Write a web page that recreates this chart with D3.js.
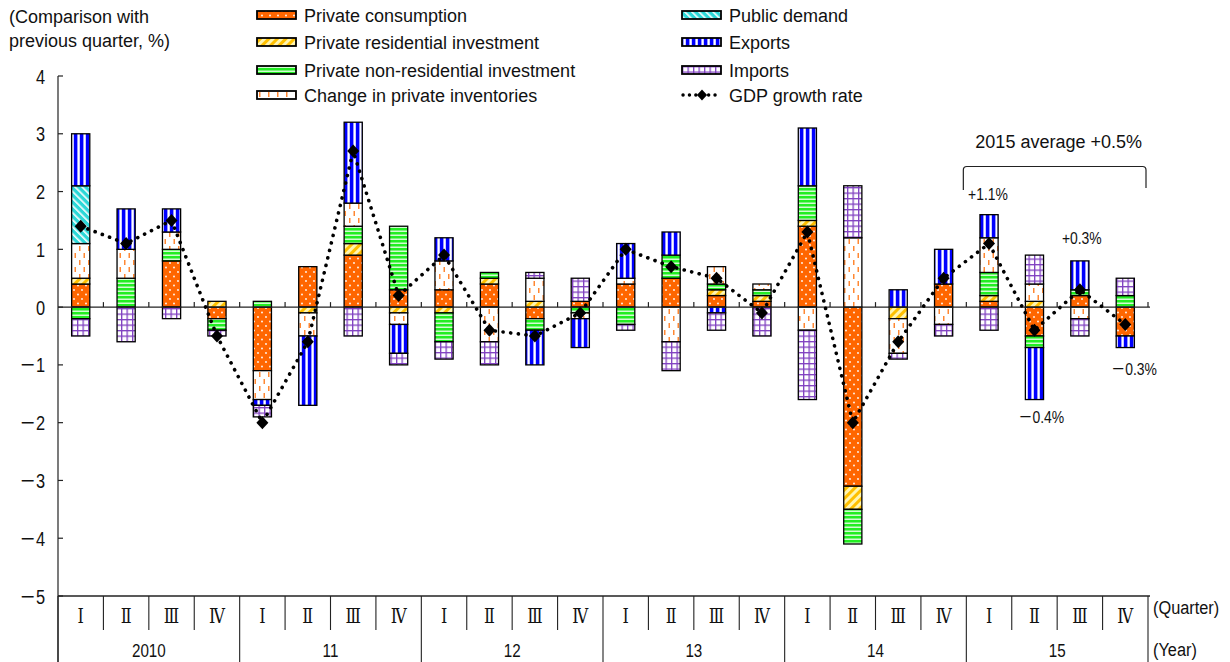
<!DOCTYPE html>
<html>
<head>
<meta charset="utf-8">
<script src="https://cdn.jsdelivr.net/npm/d3@7"></script>
<style>
  html, body { margin: 0; padding: 0; background: #fff; }
  svg { display: block; }
  .narrow { font-family: "Liberation Sans", Arial, "Noto Sans CJK JP", sans-serif; }
  .wide { font-family: "Liberation Sans", Arial, "Noto Sans CJK JP", sans-serif; }
</style>
</head>
<body>
<svg id="chart" width="1230" height="662"></svg>
<script>
// Contributions to real GDP growth (quarter on quarter, % points), 2010 Q1 – 2015 Q4
const years = ["2010", "11", "12", "13", "14", "15"];
const quarters = ["Ⅰ", "Ⅱ", "Ⅲ", "Ⅳ"];
const categories = years.flatMap(y => quarters.map(q => y + "-" + q));

const privateConsumption    = [0.4, 0, 0.8, -0.2, -1.1, 0.7, 0.9, 0.3, 0.3, 0.4, -0.2, 0.1, 0.4, 0.5, 0.2, 0.1, 1.4, -3.1, 0, 0.4, 0.1, -0.5, 0.2, -0.5];
const privateResidential    = [0.1, 0, 0, 0.1, 0, -0.1, 0.2, -0.1, -0.1, 0.1, 0.1, 0, 0, 0, 0.1, 0.1, 0.1, -0.4, -0.2, 0, 0.1, 0.1, 0, 0];
const privateNonResidential = [-0.2, 0.5, 0.2, -0.2, 0.1, 0, 0.3, 1.1, -0.5, 0.1, -0.2, -0.1, -0.3, 0.4, 0.1, 0.1, 0.6, -0.6, 0, 0, 0.4, -0.2, 0.1, 0.2];
const privateInventories    = [0.6, 0.5, 0.3, 0, -0.5, -0.4, 0.4, -0.2, 0.5, -0.6, 0.4, -0.1, 0.1, -0.6, 0.3, 0.1, -0.4, 1.2, -0.6, -0.3, 0.6, 0.3, -0.2, 0];
const publicDemand          = [1.0, 0, 0, 0, 0, 0, 0, 0, 0, 0, 0, 0, 0, 0, 0, 0, 0, 0, 0, 0, 0, 0, 0, 0];
const exportsContrib        = [0.9, 0.7, 0.4, 0, -0.1, -1.2, 1.4, -0.5, 0.4, 0, -0.6, -0.5, 0.6, 0.4, -0.1, 0, 1.0, 0, 0.3, 0.6, 0.4, -0.9, 0.5, -0.2];
const importsContrib        = [-0.3, -0.6, -0.2, -0.1, -0.2, 0, -0.5, -0.2, -0.3, -0.4, 0.1, 0.4, -0.1, -0.5, -0.3, -0.5, -1.2, 0.9, -0.1, -0.2, -0.4, 0.5, -0.3, 0.3];
const gdpGrowth             = [1.4, 1.1, 1.5, -0.5, -2.0, -0.6, 2.7, 0.2, 0.9, -0.4, -0.5, -0.1, 1.0, 0.7, 0.5, -0.1, 1.3, -2.0, -0.6, 0.5, 1.1, -0.4, 0.3, -0.3];

const yTicks = [4, 3, 2, 1, 0, -1, -2, -3, -4, -5];

const seriesNames = [
  "Private consumption", "Private residential investment", "Private non-residential investment",
  "Change in private inventories", "Public demand", "Exports", "Imports"
];
const seriesValues = [privateConsumption, privateResidential, privateNonResidential,
  privateInventories, publicDemand, exportsContrib, importsContrib];
const seriesKeys = ["cons", "res", "nonres", "inv", "pub", "exp", "imp"];

// 2015 annotations
const avgLabel = "2015 average +0.5%";
const pointLabels = [
  { cat: "15-Ⅰ", text: "+1.1%" },
  { cat: "15-Ⅱ", text: "－0.4%" },
  { cat: "15-Ⅲ", text: "+0.3%" },
  { cat: "15-Ⅳ", text: "－0.3%" }
];

const svg = d3.select("#chart");

// condensed text: horizontally squeezed glyphs
function narrowText(parent, tx, ty, str, size, sx, anchor) {
  return parent.append("text")
    .attr("class", "narrow")
    .attr("transform", `translate(${tx},${ty}) scale(${sx},1)`)
    .attr("text-anchor", anchor || "start")
    .attr("font-size", size)
    .attr("fill", "#111")
    .text(str);
}

// ---------- fill patterns ----------
const defs = svg.append("defs");
function pat(id, w, h, bg) {
  const p = defs.append("pattern").attr("id", id).attr("patternUnits", "userSpaceOnUse")
    .attr("width", w).attr("height", h);
  p.append("rect").attr("width", w).attr("height", h).attr("fill", bg);
  return p;
}
// consumption: orange with white dots
{
  const p = pat("p-cons", 8, 9, "#ff6600");
  p.append("circle").attr("cx", 2).attr("cy", 2).attr("r", 0.9).attr("fill", "#fff");
  p.append("circle").attr("cx", 6).attr("cy", 6.5).attr("r", 0.9).attr("fill", "#fff");
}
// residential: gold diagonal stripes
{
  const p = pat("p-res", 6, 6, "#fff5b0").attr("patternTransform", "rotate(45)");
  p.append("rect").attr("x", 0).attr("y", 0).attr("width", 3).attr("height", 6).attr("fill", "#ffc000");
}
// non-residential: green with white horizontal lines
{
  const p = pat("p-nonres", 6, 4, "#22ee22");
  p.append("rect").attr("x", 0).attr("y", 2.6).attr("width", 6).attr("height", 1.2).attr("fill", "#fff");
}
// inventories: white with orange dashes
{
  const p = pat("p-inv", 9, 14, "#fff");
  p.append("rect").attr("x", 2.5).attr("y", 1).attr("width", 1.5).attr("height", 5).attr("fill", "#ff8833");
  p.append("rect").attr("x", 7).attr("y", 8).attr("width", 1.5).attr("height", 5).attr("fill", "#ff8833");
}
// public demand: cyan with white diagonal stripes
{
  const p = pat("p-pub", 5, 5, "#2cd8d8").attr("patternTransform", "rotate(-45)");
  p.append("rect").attr("x", 0).attr("y", 0).attr("width", 1.6).attr("height", 5).attr("fill", "#fff");
}
// exports: blue vertical stripes
{
  const p = pat("p-exp", 6, 6, "#fff");
  p.append("rect").attr("x", 1.8).attr("y", 0).attr("width", 3.6).attr("height", 6).attr("fill", "#0000ff");
}
// imports: purple grid
{
  const p = pat("p-imp", 5.5, 5.5, "#fff");
  p.append("rect").attr("x", 0).attr("y", 0).attr("width", 5.5).attr("height", 1.3).attr("fill", "#8040c0");
  p.append("rect").attr("x", 0).attr("y", 0).attr("width", 1.3).attr("height", 5.5).attr("fill", "#8040c0");
}

// ---------- scales ----------
const x = d3.scaleBand().domain(categories).range([58, 1148]).padding(0);
const y = d3.scaleLinear().domain([-5, 4]).range([596, 76]);
const bw = x.bandwidth() * 0.4;
const cx = c => x(c) + x.bandwidth() / 2;

// ---------- stacked bars ----------
const rows = categories.map((c, i) => {
  const r = { cat: c };
  seriesKeys.forEach((k, j) => r[k] = seriesValues[j][i]);
  return r;
});
const stacked = d3.stack().keys(seriesKeys).offset(d3.stackOffsetDiverging)(rows);

const barsG = svg.append("g");
stacked.forEach(layer => {
  barsG.append("g").selectAll("rect")
    .data(layer.filter(d => d[1] - d[0] !== 0))
    .join("rect")
    .attr("x", d => cx(d.data.cat) - bw / 2)
    .attr("width", bw)
    .attr("y", d => y(Math.max(d[0], d[1])))
    .attr("height", d => Math.abs(y(d[0]) - y(d[1])))
    .attr("fill", `url(#p-${layer.key})`)
    .attr("stroke", "#000")
    .attr("stroke-width", 1.3);
});

// ---------- axes ----------
const axisG = svg.append("g").attr("stroke", "#222").attr("fill", "none");
// left axis line (runs down through the category rows)
axisG.append("line").attr("x1", 58).attr("x2", 58).attr("y1", y(4)).attr("y2", 662).attr("stroke-width", 1.2);
// y ticks
yTicks.forEach(t => {
  axisG.append("line").attr("x1", 58).attr("x2", 63).attr("y1", y(t)).attr("y2", y(t)).attr("stroke-width", 1.2);
});
const tickG = svg.append("g");
yTicks.forEach(t => {
  narrowText(tickG, 45, y(t) + 7.5, t < 0 ? "－" + Math.abs(t) : String(t), 21, 0.78, "end");
});

// zero line with small upward ticks at category boundaries
axisG.append("line").attr("x1", 58).attr("x2", 1150).attr("y1", y(0)).attr("y2", y(0)).attr("stroke-width", 1.4);
categories.forEach((c, i) => {
  if (i === 0) return;
  axisG.append("line").attr("x1", x(c)).attr("x2", x(c)).attr("y1", y(0)).attr("y2", y(0) - 5).attr("stroke-width", 1.2);
});
axisG.append("line").attr("x1", 1148).attr("x2", 1148).attr("y1", y(0)).attr("y2", y(0) - 5).attr("stroke-width", 1.2);

// bottom axis with quarter and year rows
axisG.append("line").attr("x1", 58).attr("x2", 1150).attr("y1", y(-5)).attr("y2", y(-5)).attr("stroke-width", 1.6);
categories.forEach((c, i) => {
  const yearStart = i % 4 === 0;
  axisG.append("line").attr("x1", x(c)).attr("x2", x(c))
    .attr("y1", y(-5)).attr("y2", yearStart ? 662 : 630).attr("stroke-width", 1.1);
});
axisG.append("line").attr("x1", 1148).attr("x2", 1148).attr("y1", y(-5)).attr("y2", 662).attr("stroke-width", 1.1);

const qG = svg.append("g");
categories.forEach(c => {
  qG.append("text")
    .attr("font-family", "'DejaVu Serif', 'Noto Sans CJK JP', serif")
    .attr("transform", `translate(${cx(c)},623) scale(0.8,1)`)
    .attr("text-anchor", "middle").attr("font-size", 20).attr("fill", "#111")
    .text(c.split("-")[1]);
});

const yrG = svg.append("g");
years.forEach((yr, i) => {
  const mid = (x(categories[i * 4]) + x(categories[i * 4 + 3]) + x.bandwidth()) / 2;
  narrowText(yrG, mid, 657, yr, 19, 0.8, "middle");
});

narrowText(svg, 1153, 614, "(Quarter)", 19, 0.86);
narrowText(svg, 1153, 656, "(Year)", 19, 0.86);

// unit label
svg.append("text").attr("class", "wide").attr("x", 9).attr("y", 23)
  .attr("font-size", 18).attr("fill", "#111").text("(Comparison with");
svg.append("text").attr("class", "wide").attr("x", 9).attr("y", 47)
  .attr("font-size", 18).attr("fill", "#111").text("previous quarter, %)");

// ---------- GDP growth line ----------
const diamond = "M0,-6.5L6,0L0,6.5L-6,0Z";
const line = d3.line().x(d => cx(d.cat)).y(d => y(d.v));
const gdpPts = categories.map((c, i) => ({ cat: c, v: gdpGrowth[i] }));
svg.append("path").datum(gdpPts).attr("d", line)
  .attr("fill", "none").attr("stroke", "#000").attr("stroke-width", 3.6)
  .attr("stroke-linecap", "round").attr("stroke-dasharray", "0.1 7.6");
svg.append("g").selectAll("path").data(gdpPts).join("path")
  .attr("d", diamond)
  .attr("transform", d => `translate(${cx(d.cat)},${y(d.v)})`)
  .attr("fill", "#000");

// ---------- legend ----------
const legendItems = seriesKeys.map((k, i) => ({ key: k, name: seriesNames[i] }));
const legendPos = {
  cons: [256, 15], res: [256, 42], nonres: [256, 70], inv: [256, 95],
  pub: [681, 15], exp: [681, 42], imp: [681, 70]
};
const lg = svg.append("g");
legendItems.forEach(it => {
  const [lx, ly] = legendPos[it.key];
  lg.append("rect").attr("x", lx + 1).attr("y", ly - 4).attr("width", 39).attr("height", 8)
    .attr("fill", `url(#p-${it.key})`).attr("stroke", "#000").attr("stroke-width", 1.8);
  lg.append("text").attr("class", "wide").attr("x", lx + 48).attr("y", ly + 6.5)
    .attr("font-size", 18).attr("fill", "#111").text(it.name);
});
lg.append("path").attr("d", "M683,95L721,95").attr("stroke", "#000").attr("stroke-width", 3.4)
  .attr("stroke-linecap", "round").attr("stroke-dasharray", "0.1 6.3").attr("fill", "none");
lg.append("path").attr("d", diamond).attr("transform", "translate(702,95) scale(0.85)").attr("fill", "#000");
lg.append("text").attr("class", "wide").attr("x", 729).attr("y", 101.5)
  .attr("font-size", 18).attr("fill", "#111").text("GDP growth rate");

// ---------- 2015 annotations ----------
const bx0 = x("15-Ⅰ") - 3, bx1 = 1146;
svg.append("path")
  .attr("d", `M${bx0},190 L${bx0},170 Q${bx0},166.5 ${bx0 + 3.5},166.5 L${bx1 - 3.5},166.5 Q${bx1},166.5 ${bx1},170 L${bx1},188`)
  .attr("fill", "none").attr("stroke", "#222").attr("stroke-width", 1.2);
svg.append("text").attr("class", "wide").attr("x", (bx0 + bx1) / 2 + 4).attr("y", 148)
  .attr("text-anchor", "middle").attr("font-size", 18).attr("fill", "#111").text(avgLabel);

const labelOffsets = { "15-Ⅰ": [-21, 200], "15-Ⅱ": [-16, 423], "15-Ⅲ": [-18, 244], "15-Ⅳ": [-14, 375] };
const plG = svg.append("g");
pointLabels.forEach(d => {
  narrowText(plG, cx(d.cat) + labelOffsets[d.cat][0], labelOffsets[d.cat][1], d.text, 17, 0.82);
});
</script>
</body>
</html>
